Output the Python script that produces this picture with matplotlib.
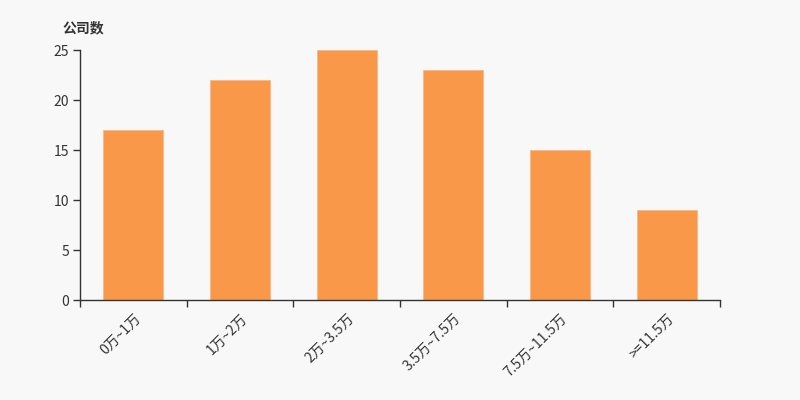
import matplotlib
matplotlib.use("Agg")
import matplotlib.pyplot as plt
import numpy as np

plt.rcParams['font.family'] = ['Noto Sans CJK SC', 'DejaVu Sans']

categories = ["0万~1万", "1万~2万", "2万~3.5万", "3.5万~7.5万", "7.5万~11.5万", ">=11.5万"]
values = [17, 22, 25, 23, 15, 9]
yticks = [0, 5, 10, 15, 20, 25]

bg = "#f8f8f8"
fig = plt.figure(figsize=(8, 4), dpi=100, facecolor=bg)
ax = fig.add_axes([0.1, 0.25, 0.8, 0.625], facecolor=bg)

x = np.arange(len(categories))
ax.bar(x, values, width=0.56, color="#f89848", edgecolor="#f8b88a", linewidth=0.6)

ax.set_xlim(-0.5, len(categories) - 0.5)
ax.set_ylim(0, 25)
ax.set_yticks(yticks)
ax.set_yticklabels([str(v) for v in yticks], fontsize=10, color="#333333")

ax.set_xticks(x)
ax.set_xticklabels(categories, rotation=45, ha="right", rotation_mode="anchor",
                   fontsize=10, color="#333333")
ax.tick_params(axis="x", which="major", length=0, pad=8)
ax.set_xticks(np.arange(len(categories) + 1) - 0.5, minor=True)
ax.tick_params(axis="x", which="minor", length=5, color="#333333", width=1)
ax.tick_params(axis="y", length=5, color="#333333", width=1, pad=3)

for s in ["top", "right"]:
    ax.spines[s].set_visible(False)
for s in ["left", "bottom"]:
    ax.spines[s].set_color("#333333")
    ax.spines[s].set_linewidth(1)

fig.text(0.078, 0.93, "公司数", fontsize=10, fontweight="bold", color="#333333",
         ha="left", va="center")

fig.savefig("out.png", dpi=100, facecolor=bg)
